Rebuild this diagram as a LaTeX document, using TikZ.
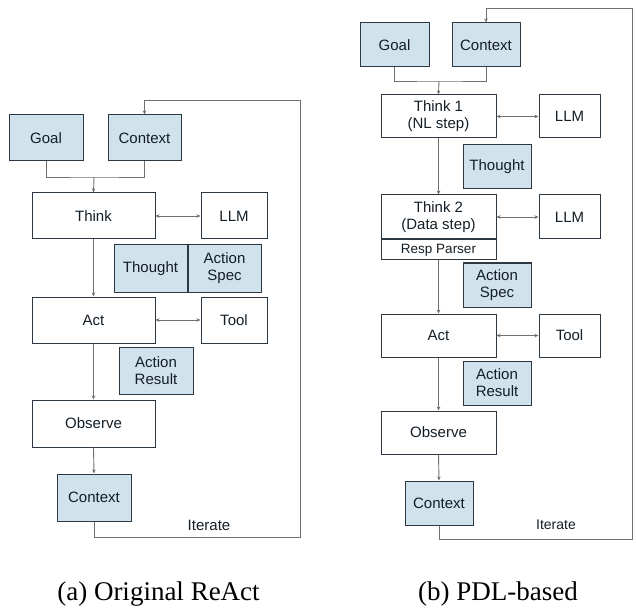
\documentclass[tikz,border=0pt]{standalone}
\usepackage{fontspec}
\setmainfont{Liberation Serif}
\setsansfont{Liberation Sans}
\usetikzlibrary{arrows.meta}
\definecolor{boxfill}{RGB}{208,226,235}
\definecolor{boxline}{RGB}{45,56,66}
\definecolor{flow}{RGB}{112,112,112}
\definecolor{ink}{RGB}{20,30,38}

\begin{document}
\begin{tikzpicture}[x=1pt,y=-1pt,
    blk/.style={draw=boxline,line width=1pt,fill=white,text=ink,font=\sffamily\fontsize{15}{17}\selectfont,align=center,inner sep=0pt},
    dat/.style={blk,fill=boxfill},
    flw/.style={draw=flow,line width=0.9pt,-{Stealth[length=4pt,width=3.5pt]}},
    twoway/.style={draw=flow,line width=0.9pt,{Stealth[length=4pt,width=3.5pt]}-{Stealth[length=4pt,width=3.5pt]}},
    subcap/.style={font=\fontsize{27}{30}\selectfont,inner sep=0pt}]
    \useasboundingbox (0,0) rectangle (636,609);
    % (a) original ReAct
    \node[dat,minimum width=74pt,minimum height=46pt] (goalA) at (46,138) {Goal};
    \node[dat,minimum width=73pt,minimum height=46pt] (ctxA) at (144.5,138) {Context};
    \node[blk,minimum width=123pt,minimum height=46pt] (thinkA) at (93.5,216) {Think};
    \node[blk,minimum width=66pt,minimum height=46pt] (llmA) at (234,216) {LLM};
    \node[dat,minimum width=73pt,minimum height=47pt] (thoughtA) at (150.5,268.5) {Thought};
    \node[dat,minimum width=73pt,minimum height=47pt,anchor=west] (specA) at (thoughtA.east) {Action\\Spec};
    \node[blk,minimum width=123pt,minimum height=46pt] (actA) at (93.5,320) {Act};
    \node[blk,minimum width=66pt,minimum height=46pt] (toolA) at (234,320) {Tool};
    \node[dat,minimum width=74pt,minimum height=47pt] (resA) at (156,370.5) {Action\\Result};
    \node[blk,minimum width=123pt,minimum height=47pt] (obsA) at (93.5,423.5) {Observe};
    \node[dat,minimum width=74pt,minimum height=47pt] (ctx2A) at (94,497.5) {Context};
    \node[font=\sffamily\fontsize{15}{17}\selectfont,text=ink,inner sep=0pt] (iterA) at (209,525) {Iterate};
    \coordinate (mergeA) at (94,177);
    \draw[draw=flow,line width=0.9pt] (goalA.south) |- (mergeA) -| (ctxA.south);
    \draw[flw] (mergeA) -- (thinkA.north);
    \draw[twoway] (thinkA.east) -- (llmA.west);
    \draw[twoway] (actA.east) -- (toolA.west);
    \draw[flw] (thinkA.south) -- (actA.north);
    \draw[flw] (actA.south) -- (obsA.north);
    \draw[flw] (obsA.south) -- (ctx2A.north);
    \draw[flw] (ctx2A.south) -- (94,537) -- (300,537) -- (300,100) -- (144.5,100) -- (ctxA.north);
    \node[subcap] (capA) at (158.5,594) {(a) Original ReAct};
    % (b) PDL-based
    \begin{scope}[every node/.append style={font=\sffamily\fontsize{14}{16.5}\selectfont}]
    \node[dat,minimum width=69pt,minimum height=44pt] (goalB) at (394.5,45) {Goal};
    \node[dat,minimum width=68pt,minimum height=44pt] (ctxB) at (486,45) {Context};
    \node[blk,minimum width=115pt,minimum height=43pt] (think1B) at (438.5,116.5) {Think 1\\(NL step)};
    \node[blk,minimum width=61pt,minimum height=43pt] (llm1B) at (569.5,116.5) {LLM};
    \node[dat,minimum width=68pt,minimum height=44pt] (thoughtB) at (497,167) {Thought};
    \node[blk,minimum width=115pt,minimum height=44pt] (think2B) at (438.5,217) {Think 2\\(Data step)};
    \node[blk,minimum width=115pt,minimum height=20pt,anchor=north,font=\sffamily\fontsize{13.5}{15}\selectfont] (parseB) at (think2B.south) {Resp Parser};
    \node[blk,minimum width=61pt,minimum height=44pt] (llm2B) at (569.5,217) {LLM};
    \node[dat,minimum width=68pt,minimum height=44pt] (specB) at (497,285) {Action\\Spec};
    \node[blk,minimum width=115pt,minimum height=43pt] (actB) at (438.5,335.5) {Act};
    \node[blk,minimum width=61pt,minimum height=43pt] (toolB) at (569.5,335.5) {Tool};
    \node[dat,minimum width=68pt,minimum height=44pt] (resB) at (497,383) {Action\\Result};
    \node[blk,minimum width=115pt,minimum height=43pt] (obsB) at (438.5,432.5) {Observe};
    \node[dat,minimum width=68pt,minimum height=44pt] (ctx2B) at (439,503) {Context};
    \node[text=ink,inner sep=0pt] (iterB) at (556,525) {Iterate};
    \end{scope}
    \coordinate (mergeB) at (439,81);
    \draw[draw=flow,line width=0.9pt] (goalB.south) |- (mergeB) -| (ctxB.south);
    \draw[flw] (mergeB) -- (think1B.north);
    \draw[twoway] (think1B.east) -- (llm1B.west);
    \draw[twoway] (think2B.east) -- (llm2B.west);
    \draw[twoway] (actB.east) -- (toolB.west);
    \draw[flw] (think1B.south) -- (think2B.north);
    \draw[flw] (parseB.south) -- (actB.north);
    \draw[flw] (actB.south) -- (obsB.north);
    \draw[flw] (obsB.south) -- (ctx2B.north);
    \draw[flw] (ctx2B.south) -- (439,539) -- (632,539) -- (632,8) -- (486,8) -- (ctxB.north);
    \node[subcap] (capB) at (498,594) {(b) PDL-based};
\end{tikzpicture}
\end{document}
